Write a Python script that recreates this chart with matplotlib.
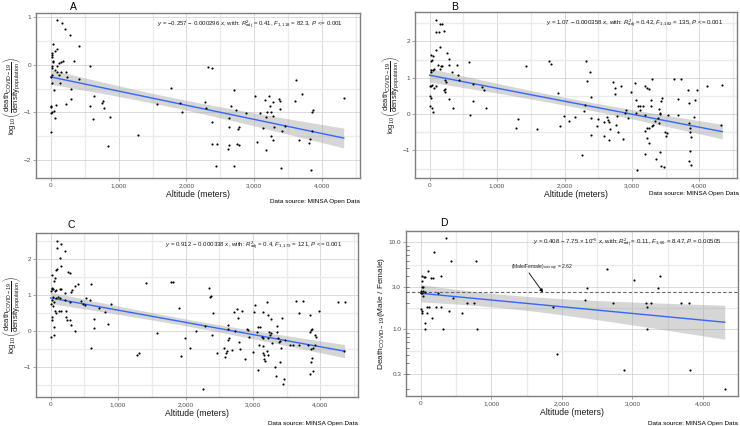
import numpy as np
import matplotlib
matplotlib.use("Agg")
import matplotlib.pyplot as plt
from matplotlib.ticker import FixedLocator, FuncFormatter

plt.rcParams['font.family'] = ['Liberation Sans', 'DejaVu Sans']
plt.rcParams['mathtext.fontset'] = 'custom'
plt.rcParams['mathtext.rm'] = 'Liberation Sans'
plt.rcParams['mathtext.it'] = 'Liberation Sans:italic'
plt.rcParams['mathtext.bf'] = 'Liberation Sans:bold'

# ---------------- data ----------------
a_alt = [0, 98, 161, 210, 283, 410, 39, 98, 59, 20,
         20, 15, 34, 34, 122, 146, 185, 346, 24, 15,
         88, 63, 98, 146, 220, 122, 24, 0, 415, 244,
         585, 24, 49, 302, 132, 302, 220, 73, 10, 10,
         24, 5, 59, 49, 644, 576, 624, 756, 771, 780,
         878, 839, 1293, 1766, 1571, 1902, 1927, 2317, 2371, 2268,
         2293, 2380, 2380, 2449, 2439, 2707, 2707, 2649, 2634, 2634,
         2624, 2610, 2741, 2780, 2756, 2771, 2732, 2878, 3015, 3034,
         3083, 3161, 3210, 3180, 3171, 3122, 3229, 3244, 3268, 3268,
         3283, 3244, 3268, 3171, 3366, 3380, 3375, 3405, 3390, 3454,
         3610, 3600, 3698, 3659, 3815, 3805, 3829, 3844, 3863, 3844,
         4317]
a_val = [-1.40, 0.93, 0.88, 0.74, 0.61, 0.40, 0.44, 0.33, 0.28, 0.24,
         0.21, 0.17, 0.07, 0.05, 0.03, 0.05, 0.07, 0.08, -0.03, -0.07,
         -0.03, -0.12, -0.16, -0.16, -0.16, -0.21, -0.21, -0.26, -0.29, -0.26,
         -0.03, -0.38, -0.52, -0.51, -0.38, -0.72, -0.82, -0.84, -0.87, -0.89,
         -1.00, -1.01, -1.12, -0.96, -0.65, -0.87, -1.14, -0.80, -0.77, -0.91,
         -1.10, -1.70, -1.47, -0.49, -0.82, -0.80, -1.00, -0.05, -0.07, -0.79,
         -0.91, -1.19, -1.65, -1.65, -2.11, -2.11, -0.54, -0.86, -1.12, -1.31,
         -1.68, -1.77, -1.65, -1.68, -1.34, -1.31, -0.94, -1.01, -0.66, -1.62,
         -1.01, -0.73, -0.66, -0.98, -1.10, -1.32, -0.86, -1.00, -0.79, -1.07,
         -1.31, -1.49, -1.57, -1.79, -0.72, -0.75, -0.93, -1.38, -2.16, -1.29,
         -0.33, -0.77, -0.61, -1.57, -1.56, -1.63, -2.21, -0.98, -0.94, -1.38,
         -0.70]

b_alt = [98, 147, 98, 132, 206, 180, 147, 98, 15, 49,
         255, 15, 34, 123, 162, 186, 284, 294, 402, 15,
         25, 49, 64, 157, 333, 417, 588, 221, 245, 235,
         230, 206, 39, 15, 0, 64, 98, 10, 15, 0,
         34, 49, 294, 353, 441, 638, 647, 598, 774, 799,
         833, 1422, 1765, 1804, 1284, 1314, 1593, 1902, 1995, 1936,
         2073, 2157, 2255, 2319, 2338, 2377, 2392, 2304, 2294, 2392,
         2392, 2475, 2578, 2588, 2500, 2637, 2647, 2657, 2672, 2657,
         2721, 2755, 2745, 2779, 2770, 2833, 2794, 2868, 2892, 2917,
         2941, 2990, 3039, 3064, 3064, 3078, 3088, 3113, 3123, 3157,
         3186, 3225, 3250, 3186, 3186, 3196, 3225, 3245, 3225, 3250,
         3275, 3284, 3294, 3309, 3294, 3338, 3357, 3387, 3397, 3407,
         3412, 3422, 3431, 3446, 3422, 3436, 3470, 3485, 3505, 3520,
         3529, 3618, 3676, 3676, 3725, 3824, 3848, 3848, 3863, 3863,
         3873, 3858, 3848, 3882, 3922, 3931, 3961, 4118, 4338, 4324]
b_val = [2.60, 2.49, 2.27, 2.25, 2.28, 2.49, 1.84, 1.77, 1.63, 1.61,
         1.68, 1.45, 1.50, 1.36, 1.33, 1.33, 1.51, 1.36, 1.36, 1.22,
         1.17, 1.20, 1.24, 1.24, 1.15, 1.08, 1.42, 0.94, 0.87, 0.69,
         0.60, 0.65, 0.81, 0.78, 0.76, 0.72, 0.78, 0.50, 0.44, 0.21,
         0.17, 0.07, 0.41, 0.17, 0.93, 0.83, 0.35, -0.02, 0.74, 0.67,
         0.17, 1.31, 1.45, 1.38, -0.37, -0.14, -0.41, 0.58, -0.04, -0.34,
         -0.20, -0.09, -1.12, 1.47, 0.90, 1.17, 0.46, 0.26, 0.09, -0.11,
         -0.57, -0.34, -0.23, -0.60, -0.14, -0.08, -0.16, -0.23, -0.41, -0.71,
         0.87, 0.72, 0.56, -0.06, -0.29, 0.78, -0.48, -0.69, 0.03, 0.12,
         -0.11, 0.60, 0.85, 0.38, 0.03, -1.55, 0.21, 0.23, 0.12, 0.21,
         0.78, 0.72, 0.69, -0.02, -0.46, -1.10, -0.39, -0.39, -0.66, -0.80,
         0.23, 0.39, 0.96, -0.29, -0.34, -0.20, -1.24, -0.11, -0.25, 0.15,
         0.03, 0.01, 0.35, 0.44, -1.05, -1.44, -1.46, -0.50, -0.60, -0.53,
         -0.02, 0.97, -0.02, 0.41, 0.96, 0.67, 0.30, -0.25, -0.39, -0.48,
         -0.63, -1.03, -1.30, -1.41, -0.08, 0.38, 0.65, 0.78, 0.81, -0.29]

c_alt = [98, 157, 98, 206, 133, 157, 98, 83, 255, 290,
         20, 59, 44, 20, 10, 34, 20, 69, 83, 133,
         157, 319, 295, 364, 413, 600, 206, 34, 74, 138,
         108, 0, 49, 20, 34, 216, 280, 452, 526, 585,
         511, 477, 722, 801, 900, 59, 83, 118, 147, 221,
         231, 241, 280, 20, 20, 49, 49, 0, 305, 354,
         649, 639, 600, 845, 1420, 1779, 1818, 1287, 1311, 1582,
         1902, 1985, 1936, 2073, 2162, 2260, 2295, 2344, 2369, 2383,
         2403, 2393, 2467, 2565, 2580, 2605, 2619, 2629, 2634, 2644,
         2634, 2688, 2713, 2737, 2762, 2772, 2786, 2811, 2835, 2884,
         2909, 2919, 2938, 3007, 3017, 3032, 3057, 3081, 3081, 3106,
         3096, 3130, 3155, 3155, 3145, 3155, 3170, 3180, 3170, 3204,
         3204, 3219, 3229, 3229, 3244, 3253, 3263, 3273, 3278, 3327,
         3337, 3351, 3361, 3376, 3390, 3400, 3400, 3410, 3425, 3440,
         3459, 3474, 3548, 3597, 3636, 3681, 3681, 3735, 3818, 3843,
         3867, 3877, 3843, 3867, 3892, 3877, 3867, 3843, 3892, 3917,
         3931, 3922, 3980, 4260, 4359, 4349]
c_val = [2.50, 2.41, 2.29, 2.20, 2.02, 1.79, 1.70, 1.68, 1.63, 1.59,
         1.55, 1.46, 1.37, 1.15, 1.10, 1.15, 1.20, 1.10, 1.13, 1.17,
         1.15, 1.14, 1.08, 1.23, 1.31, 1.29, 1.05, 0.93, 0.90, 0.90,
         0.93, 0.75, 0.79, 0.86, 0.70, 0.86, 0.81, 0.84, 0.91, 0.86,
         0.72, 0.75, 0.63, 0.52, 0.75, 0.54, 0.50, 0.56, 0.54, 0.54,
         0.38, 0.29, 0.31, 0.38, 0.29, 0.11, -0.10, -0.16, 0.17, 0.00,
         0.32, 0.09, -0.48, 0.20, 1.32, 1.36, 1.36, -0.66, -0.62, -0.05,
         0.63, -0.21, -0.69, -0.48, 0.00, -1.62, 0.14, 1.20, 0.95, 0.97,
         0.49, -0.10, -0.62, -0.48, -0.71, -0.62, -0.56, 0.15, 0.06, -0.21,
         -0.25, -0.53, 0.52, -0.01, 0.61, 0.35, -0.30, -0.51, 0.54, -0.78,
         0.06, 0.02, -0.17, -0.59, 0.52, 0.72, -0.03, -1.07, 0.11, 0.11,
         -0.39, -0.16, -0.21, -0.41, -0.62, 0.52, -0.68, -0.83, -0.77, -0.55,
         0.79, 0.43, -0.21, -0.68, -0.03, -0.12, 0.34, -0.07, -0.34, -1.01,
         -1.24, 0.14, -0.03, -0.21, -0.32, -0.27, -0.86, -0.46, 0.35, -1.48,
         -1.32, -0.25, -0.39, -0.39, 0.84, 0.50, -0.39, 0.84, -0.39, 0.45,
         0.02, 0.06, -0.03, -0.50, -0.48, -0.75, -0.85, -1.19, -1.12, -0.10,
         -0.16, -0.39, 0.56, 0.79, 0.79, -0.57]

d_alt = [358, 193, 425, 783, 108, 14, 47, 61, 146, 170,
         283, 14, 14, 38, 5, 28, 0, 24, 61, 241,
         38, 453, 0, 14, 14, 85, 118, 217, 283, 85,
         156, 406, 590, 651, 755, 61, 61, 311, 792, 1925,
         1877, 2325, 2363, 2642, 2726, 2882, 3019, 3189, 3208, 3259,
         3208, 3368, 3387, 3693, 3802, 3811, 4307]
d_ratio = [11.0, 7.7, 6.0, 6.0, 4.6, 4.0, 3.97, 3.9, 3.8, 3.8,
           4.05, 3.55, 3.05, 3.05, 2.72, 2.72, 2.6, 2.55, 2.65, 2.60,
           2.38, 2.28, 1.70, 1.60, 1.53, 1.79, 1.79, 1.79, 1.79, 1.50,
           1.34, 1.60, 1.50, 1.99, 1.99, 1.17, 1.00, 1.00, 1.00, 0.506,
           1.78, 2.14, 2.97, 4.93, 1.99, 0.333, 3.65, 1.99, 1.79, 1.99,
           1.00, 2.97, 4.05, 1.99, 1.99, 0.333, 0.20]

panel_titles = ["A", "B", "C", "D"]
coef_a = (-0.257, -0.000296)
coef_b = (1.07, -0.000358)
coef_c = (0.912, -0.000338)
coef_d = (0.408, -7.75e-5)
ratio_average = 2.62

eq_a = r"$y$ = $-$0.257 $-$ 0.000296 $x$, with: $R^2_{\mathrm{adj}}$ = 0.41, $F_{\mathrm{1,118}}$ = 82.3, $P$ <= 0.001"
eq_b = r"$y$ = 1.07 $-$ 0.000358 $x$, with: $R^2_{\mathrm{adj}}$ = 0.42, $F_{\mathrm{1,182}}$ = 135, $P$ <= 0.001"
eq_c = r"$y$ = 0.912 $-$ 0.000338 $x$, with: $R^2_{\mathrm{adj}}$ = 0.4, $F_{\mathrm{1,179}}$ = 121, $P$ <= 0.001"
eq_d = r"$y$ = 0.408 $-$ 7.75 $\times$ 10$^{-5}$ $x$, with: $R^2_{\mathrm{adj}}$ = 0.11, $F_{\mathrm{1,60}}$ = 8.47, $P$ = 0.00505"
avg_label = r"(Male/Female)$_{\mathrm{average}}$ = 2.62"

ylab_log = r"$\log_{10}\left(\dfrac{\mathrm{death}_{\mathrm{COVID-19}}}{\mathrm{density}_{\mathrm{population}}}\right)$"
ylab_d = r"Death$_{\mathrm{COVID-19}}$(Male / Female)"
xlab = "Altitude (meters)"
source = "Data source: MINSA Open Data"

# ---------------- drawing ----------------
W, H = 740, 426
fig = plt.figure(figsize=(7.4, 4.26), dpi=100)

def fa(l, t, r, b):
    return [l / W, 1 - b / H, (r - l) / W, (b - t) / H]

GRID_MAJ = "#d4d4d4"
GRID_MIN = "#ebebeb"
TXT = "#4d4d4d"

def style_axes(ax):
    for s in ax.spines.values():
        s.set_color("#7f7f7f")
        s.set_linewidth(1.0)
    ax.set_axisbelow(True)
    ax.tick_params(axis="both", which="major", labelsize=4.6, colors="#7f7f7f",
                   labelcolor=TXT, length=2, width=0.5, pad=1.5)
    ax.grid(True, which="major", color=GRID_MAJ, lw=0.6)
    ax.grid(True, which="minor", color=GRID_MIN, lw=1.0)
    ax.set_xlim(-217, 4557)
    ax.set_xticks([0, 1000, 2000, 3000, 4000])
    ax.set_xticks([500, 1500, 2500, 3500, 4500], minor=True)
    ax.xaxis.set_major_formatter(FuncFormatter(lambda v, p: f"{int(v):,}"))
    ax.tick_params(axis="both", which="minor", length=0)
    ax.set_xlabel(xlab, fontsize=6.2, color="#1a1a1a", labelpad=1.5)

def fit_band(x, y, coef, ax, log=False):
    x = np.asarray(x, float)
    y = np.asarray(y, float)
    if log:
        y = np.log10(y)
    b0, b1 = coef
    n = len(x)
    resid = y - (b0 + b1 * x)
    s = np.sqrt(np.sum(resid ** 2) / (n - 2))
    xbar = x.mean()
    sxx = np.sum((x - xbar) ** 2)
    xs = np.linspace(x.min(), x.max(), 200)
    yh = b0 + b1 * xs
    se = s * np.sqrt(1.0 / n + (xs - xbar) ** 2 / sxx)
    lo, hi = yh - 1.97 * se, yh + 1.97 * se
    if log:
        yh, lo, hi = 10 ** yh, 10 ** lo, 10 ** hi
    ax.fill_between(xs, lo, hi, color="#999999", alpha=0.4, lw=0, zorder=2)
    ax.plot(xs, yh, color="#3366FF", lw=1.0, zorder=3)

panels = [
    (fa(36, 13, 360, 178), a_alt, a_val, coef_a, eq_a, (-2.37, 1.08), [-2, -1, 0, 1], [-1.5, -0.5, 0.5]),
    (fa(415, 12, 737, 178), b_alt, b_val, coef_b, eq_b, (-1.76, 2.81), [-1, 0, 1, 2], [-1.5, -0.5, 0.5, 1.5, 2.5]),
    (fa(36, 233, 358, 397), c_alt, c_val, coef_c, eq_c, (-1.83, 2.71), [-1, 0, 1, 2], [-1.5, -0.5, 0.5, 1.5, 2.5]),
]
eq_pos = [(0.947, 0.925), (0.957, 0.93), (0.953, 0.92)]

for i, (rect, x, y, coef, eq, ylim, yt, ymt) in enumerate(panels):
    ax = fig.add_axes(rect)
    style_axes(ax)
    ax.set_ylim(*ylim)
    ax.set_yticks(yt)
    ax.set_yticks(ymt, minor=True)
    ax.yaxis.set_major_formatter(FuncFormatter(lambda v, p: f"{v:g}".replace("-", "\u2212")))
    fit_band(x, y, coef, ax)
    ax.scatter(x, y, s=2.4, color="black", lw=0, zorder=4)
    ax.text(eq_pos[i][0], eq_pos[i][1], eq, transform=ax.transAxes, ha="right",
            va="center", fontsize=4.4, color="#1a1a1a")
    ax.set_ylabel(ylab_log, fontsize=5.5, color="#1a1a1a", labelpad=0.3)

# Panel D
axd = fig.add_axes(fa(406, 231, 738, 396))
style_axes(axd)
axd.set_xlim(-208, 4495)
axd.set_yscale("log")
axd.set_ylim(0.167, 13.4)
axd.yaxis.set_major_locator(FixedLocator([0.3, 1.0, 3.0, 10.0]))
axd.yaxis.set_major_formatter(FuncFormatter(lambda v, p: f"{v:.1f}"))
axd.yaxis.set_minor_locator(FixedLocator([0.548, 1.732, 5.477]))
axd.yaxis.set_minor_formatter(FuncFormatter(lambda v, p: ""))
axd.grid(True, which="minor", axis="y", color=GRID_MIN, lw=1.0)
axd.grid(True, which="minor", axis="x", color=GRID_MIN, lw=1.0)
# log ticks inside left edge
logticks = [v * 10.0 ** k for k in (-1, 0, 1) for v in range(2, 10)]
for v in logticks:
    if 0.167 < v < 13.4:
        axd.plot([0, 0.008], [v, v], transform=axd.get_yaxis_transform(),
                 color="#555555", lw=0.5, zorder=5, clip_on=False)
fit_band(d_alt, d_ratio, coef_d, axd, log=True)
axd.axhline(ratio_average, color="#666666", lw=0.8, ls=(0, (3, 2)), zorder=3)
axd.scatter(d_alt, d_ratio, s=2.4, color="black", lw=0, zorder=4)
axd.text(1720, 5.0, avg_label, ha="center", va="center", fontsize=3.6, color="#1a1a1a")
axd.annotate("", xy=(1733, ratio_average), xytext=(1534, 4.4),
             arrowprops=dict(arrowstyle="-|>", color="black", lw=0.6,
                             mutation_scale=5, shrinkA=0, shrinkB=0))
axd.text(0.95, 0.93, eq_d, transform=axd.transAxes, ha="right", va="center",
         fontsize=4.4, color="#1a1a1a")
axd.set_ylabel(ylab_d, fontsize=6.0, color="#1a1a1a", labelpad=1)

# titles
for t, (px, py) in zip(panel_titles, [(73, 6.5), (455, 6.5), (71, 225), (444, 223)]):
    fig.text(px / W, 1 - py / H, t, fontsize=7.5, ha="center", va="center", color="black")

# data source
for (px, py) in [(360, 202), (739, 193), (358, 423), (738, 423)]:
    fig.text(px / W, 1 - py / H, source, fontsize=4.6, ha="right", va="center", color="black")

fig.savefig("out.png", dpi=100)
